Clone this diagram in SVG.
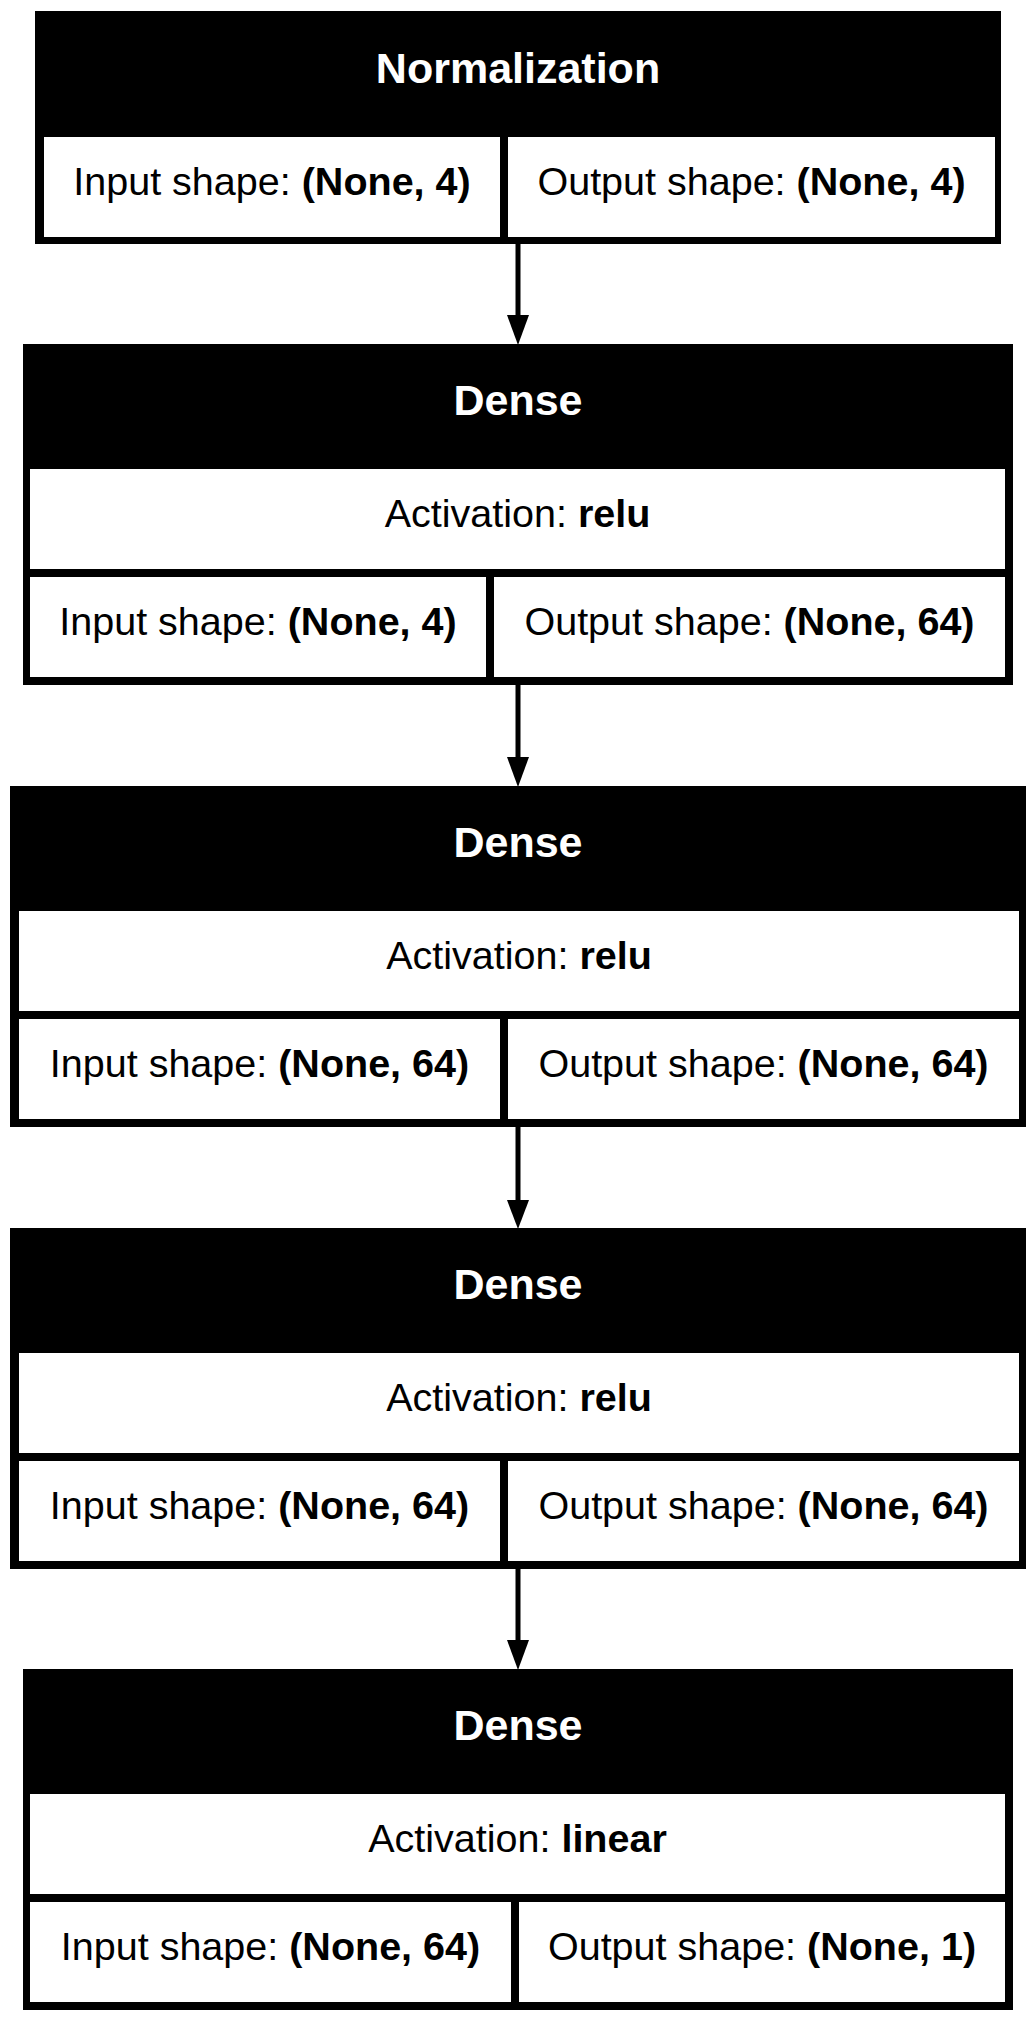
<svg xmlns="http://www.w3.org/2000/svg" width="1036" height="2022" viewBox="0 0 1036 2022">
<style>
.frame{fill:#000}
.cell{fill:#fff}
.title{font-family:"Liberation Sans",Arial,sans-serif;font-size:43px;font-weight:bold;fill:#fff;text-anchor:middle}
.txt{font-family:"Liberation Sans",Arial,sans-serif;font-size:39.5px;fill:#000;text-anchor:middle}
.b{font-weight:bold}
.edge{stroke:#000;stroke-width:5;fill:none}
.head{fill:#000;stroke:none}
</style>
<rect width="1036" height="2022" fill="#fff"/>
<g id="connectors">
<line class="edge" x1="518" y1="244" x2="518" y2="316"/>
<polygon class="head" points="507,315 529,315 518,345"/>
<line class="edge" x1="518" y1="685" x2="518" y2="758"/>
<polygon class="head" points="507,757 529,757 518,787"/>
<line class="edge" x1="518" y1="1127" x2="518" y2="1201"/>
<polygon class="head" points="507,1200 529,1200 518,1229"/>
<line class="edge" x1="518" y1="1569" x2="518" y2="1641"/>
<polygon class="head" points="507,1640 529,1640 518,1670"/>
</g>
<g id="node1">
<rect class="frame" x="35" y="11" width="966" height="233"/>
<rect class="cell" x="44" y="137" width="456" height="100"/>
<rect class="cell" x="508" y="137" width="487" height="100"/>
<text class="title" x="518" y="83">Normalization</text>
<text class="txt" x="272" y="195">Input shape: <tspan class="b">(None, 4)</tspan></text>
<text class="txt" x="751.5" y="195">Output shape: <tspan class="b">(None, 4)</tspan></text>
</g>
<g id="node2">
<rect class="frame" x="23" y="344" width="990" height="341"/>
<rect class="cell" x="30" y="469" width="975" height="100"/>
<rect class="cell" x="30" y="577" width="456" height="100"/>
<rect class="cell" x="494" y="577" width="511" height="100"/>
<text class="title" x="518" y="415">Dense</text>
<text class="txt" x="517.5" y="527">Activation: <tspan class="b">relu</tspan></text>
<text class="txt" x="258" y="635">Input shape: <tspan class="b">(None, 4)</tspan></text>
<text class="txt" x="749.5" y="635">Output shape: <tspan class="b">(None, 64)</tspan></text>
</g>
<g id="node3">
<rect class="frame" x="10" y="786" width="1016" height="341"/>
<rect class="cell" x="19" y="911" width="1000" height="100"/>
<rect class="cell" x="19" y="1019" width="481" height="100"/>
<rect class="cell" x="508" y="1019" width="511" height="100"/>
<text class="title" x="518" y="857">Dense</text>
<text class="txt" x="519" y="969">Activation: <tspan class="b">relu</tspan></text>
<text class="txt" x="259.5" y="1077">Input shape: <tspan class="b">(None, 64)</tspan></text>
<text class="txt" x="763.5" y="1077">Output shape: <tspan class="b">(None, 64)</tspan></text>
</g>
<g id="node4">
<rect class="frame" x="10" y="1228" width="1016" height="341"/>
<rect class="cell" x="19" y="1353" width="1000" height="100"/>
<rect class="cell" x="19" y="1461" width="481" height="100"/>
<rect class="cell" x="508" y="1461" width="511" height="100"/>
<text class="title" x="518" y="1299">Dense</text>
<text class="txt" x="519" y="1411">Activation: <tspan class="b">relu</tspan></text>
<text class="txt" x="259.5" y="1519">Input shape: <tspan class="b">(None, 64)</tspan></text>
<text class="txt" x="763.5" y="1519">Output shape: <tspan class="b">(None, 64)</tspan></text>
</g>
<g id="node5">
<rect class="frame" x="23" y="1669" width="990" height="341"/>
<rect class="cell" x="30" y="1794" width="975" height="100"/>
<rect class="cell" x="30" y="1902" width="481" height="100"/>
<rect class="cell" x="519" y="1902" width="486" height="100"/>
<text class="title" x="518" y="1740">Dense</text>
<text class="txt" x="517.5" y="1852">Activation: <tspan class="b">linear</tspan></text>
<text class="txt" x="270.5" y="1960">Input shape: <tspan class="b">(None, 64)</tspan></text>
<text class="txt" x="762" y="1960">Output shape: <tspan class="b">(None, 1)</tspan></text>
</g>
</svg>
